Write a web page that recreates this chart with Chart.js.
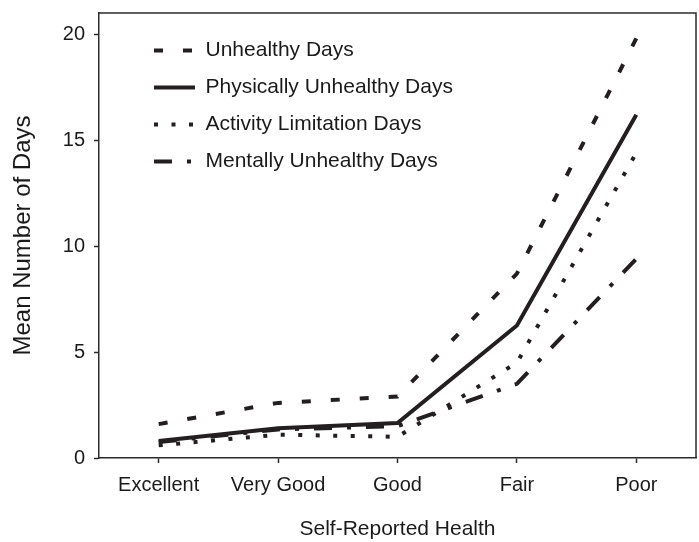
<!DOCTYPE html>
<html>
<head>
<meta charset="utf-8">
<script src="https://cdn.jsdelivr.net/npm/chart.js@4.4.0/dist/chart.umd.min.js"></script>
<style>
  html, body { margin: 0; padding: 0; background: #fff; }
</style>
</head>
<body>
<canvas id="health-chart" width="699" height="542"></canvas>
<script>
// values
const categories = ['Excellent', 'Very Good', 'Good', 'Fair', 'Poor'];
const unhealthyDays = [1.6, 2.6, 2.9, 8.7, 19.8];
const physicallyUnhealthyDays = [0.8, 1.4, 1.65, 6.25, 16.2];
const activityLimitationDays = [0.6, 1.1, 1.0, 4.5, 14.4];
const mentallyUnhealthyDays = [0.75, 1.35, 1.5, 3.5, 9.4];
const yTickValues = [0, 5, 10, 15, 20];

const ink = '#231f20';
const axisColor = '#2b2b2b';

Chart.defaults.font.family = '"Liberation Sans", Arial, sans-serif';
Chart.defaults.color = '#1a1a1a';

// top and right edges of the plot box
const framePlugin = {
    id: 'frame',
    afterDraw(chart) {
        const { ctx, chartArea } = chart;
        ctx.save();
        ctx.strokeStyle = axisColor;
        ctx.lineWidth = 1.5;
        ctx.beginPath();
        ctx.moveTo(chartArea.left, chartArea.top);
        ctx.lineTo(chartArea.right, chartArea.top);
        ctx.lineTo(chartArea.right, chartArea.bottom);
        ctx.stroke();
        ctx.restore();
    }
};

// move the legend inside the plot, near the top left corner
const legendOffset = {
    id: 'legendOffset',
    afterLayout(chart) {
        chart.legend.left = chart.chartArea.left + 39;
        chart.legend.top = 24;
    }
};

function makeLine(label, data, dash) {
    return {
        label: label,
        data: data,
        borderColor: ink,
        backgroundColor: ink,
        borderWidth: 4,
        borderDash: dash,
        pointRadius: 0,
        pointHoverRadius: 0,
        tension: 0,
        fill: false
    };
}

const ctx = document.getElementById('health-chart').getContext('2d');

new Chart(ctx, {
    type: 'line',
    data: {
        labels: categories,
        datasets: [
            makeLine('Unhealthy Days', unhealthyDays, [9, 20]),
            makeLine('Physically Unhealthy Days', physicallyUnhealthyDays, []),
            makeLine('Activity Limitation Days', activityLimitationDays, [4, 13.5]),
            makeLine('Mentally Unhealthy Days', mentallyUnhealthyDays, [18, 15, 4, 15])
        ]
    },
    options: {
        responsive: false,
        animation: false,
        devicePixelRatio: 1,
        layout: {
            padding: { top: 13, right: 3, left: 0, bottom: 0 }
        },
        plugins: {
            legend: {
                position: 'chartArea',
                align: 'start',
                labels: {
                    usePointStyle: true,
                    pointStyle: 'line',
                    pointStyleWidth: 41,
                    padding: 16,
                    color: '#1a1a1a',
                    font: { size: 21 },
                    generateLabels(chart) {
                        const items = Chart.defaults.plugins.legend.labels.generateLabels(chart);
                        items.forEach(item => {
                            const ds = chart.data.datasets[item.datasetIndex];
                            item.lineDash = ds.borderDash;
                            item.lineWidth = ds.borderWidth;
                            item.strokeStyle = ds.borderColor;
                            item.pointStyle = 'line';
                        });
                        return items;
                    }
                }
            },
            tooltip: { enabled: false }
        },
        scales: {
            x: {
                offset: true,
                grid: {
                    offset: false,
                    drawOnChartArea: false,
                    drawTicks: true,
                    tickLength: 5,
                    tickWidth: 1.5,
                    tickColor: axisColor
                },
                border: { display: true, color: axisColor, width: 1.5 },
                ticks: { padding: 10, color: '#1a1a1a', font: { size: 20 } },
                title: {
                    display: true,
                    text: 'Self-Reported Health',
                    color: '#1a1a1a',
                    font: { size: 21 },
                    padding: { top: 0, bottom: 0 }
                },
                afterFit(scale) { scale.height = 84; }
            },
            y: {
                min: 0,
                max: 21,
                grid: {
                    drawOnChartArea: false,
                    drawTicks: true,
                    tickLength: 5,
                    tickWidth: 1.5,
                    tickColor: axisColor
                },
                border: { display: true, color: axisColor, width: 1.5 },
                ticks: { padding: 9, color: '#1a1a1a', font: { size: 20 } },
                afterBuildTicks(scale) {
                    scale.ticks = yTickValues.map(v => ({ value: v }));
                },
                title: {
                    display: true,
                    text: 'Mean Number of Days',
                    color: '#1a1a1a',
                    font: { size: 24 },
                    padding: { top: 9, bottom: 0 }
                },
                afterFit(scale) {
                    scale.width = 99;
                    scale.paddingTop = 0;
                    scale.paddingBottom = 0;
                }
            }
        }
    },
    plugins: [framePlugin, legendOffset]
});
</script>
</body>
</html>
